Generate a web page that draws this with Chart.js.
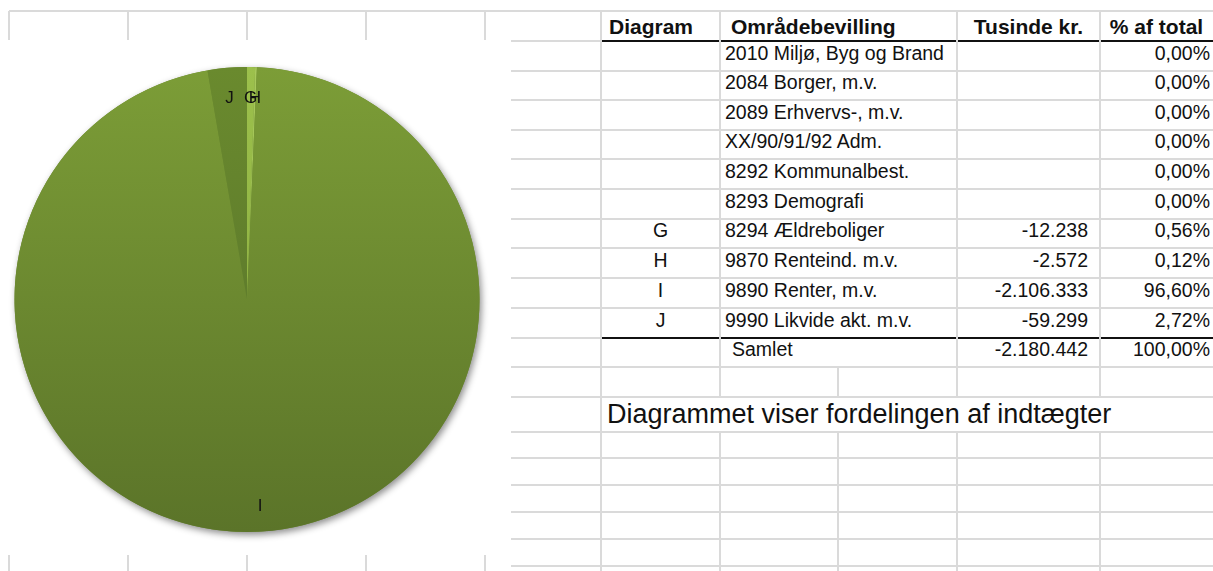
<!DOCTYPE html>
<html lang="da">
<head>
    <meta charset="UTF-8">
    <title>Fordeling af indtægter</title>
    <script src="https://cdn.jsdelivr.net/npm/chart.js@4.4.1/dist/chart.umd.min.js"></script>
    <style>
        html, body {margin: 0;padding: 0;width: 1213px;height: 571px;overflow: hidden;background: #fff;
            font-family: "Liberation Sans", Arial, sans-serif;color: #111;}
        .gl {position: absolute;background: #dadada;}
        .bl {position: absolute;background: #111;}
        .cell {position: absolute;display: flex;align-items: flex-end;line-height: 1;white-space: nowrap;box-sizing: border-box;}
        #pieBox {position: absolute;left: 0;top: 40px;width: 510px;height: 515px;background: #fff;z-index: 2;}
    </style>
</head>
<body>
<div id="sheet"></div>
<div id="pieBox"><canvas id="pie"></canvas></div>
<script>
    // data
    const codes = ['', '', '', '', '', '', 'G', 'H', 'I', 'J'];
    const names = ['2010 Miljø, Byg og Brand', '2084 Borger, m.v.', '2089 Erhvervs-, m.v.', 'XX/90/91/92 Adm.',
        '8292 Kommunalbest.', '8293 Demografi', '8294 Ældreboliger', '9870 Renteind. m.v.', '9890 Renter, m.v.',
        '9990 Likvide akt. m.v.'];
    const amounts = [null, null, null, null, null, null, -12238, -2572, -2106333, -59299];
    const shares = [0, 0, 0, 0, 0, 0, 0.56, 0.12, 96.60, 2.72];
    const headers = ['Diagram', 'Områdebevilling', 'Tusinde kr.', '% af total'];
    const totalLabel = 'Samlet';
    const note = 'Diagrammet viser fordelingen af indtægter';

    // slice colours, top -> bottom of the gradient
    const sliceTop = ['#9bbb59', '#9bbb59', '#9bbb59', '#9bbb59', '#9bbb59', '#9bbb59', '#9cc04c', '#a8c95c', '#7c9d37', '#6a8a2e'];
    const sliceBottom = ['#77933c', '#77933c', '#77933c', '#77933c', '#77933c', '#77933c', '#86a83a', '#90b244', '#5b7429', '#55702a'];

    function fmtAmount(v) {
        if (v === null) return '';
        const s = Math.abs(v).toString().replace(/\B(?=(\d{3})+(?!\d))/g, '.');
        return (v < 0 ? '-' : '') + s;
    }

    function fmtShare(v) {
        return v.toFixed(2).replace('.', ',') + '%';
    }

    // ---- spreadsheet grid ----
    const sheet = document.getElementById('sheet');
    const rowLines = [11, 41, 71, 100, 130, 159, 189, 219, 248, 278, 308, 338, 367, 397, 432, 458, 485, 512, 539, 566];

    function box(cls, l, t, w, h) {
        const d = document.createElement('div');
        d.className = cls;
        d.style.cssText = `left:${l}px;top:${t}px;width:${w}px;height:${h}px;`;
        sheet.appendChild(d);
        return d;
    }

    rowLines.forEach((y, i) => {
        if (i === 0) {
            box('gl', 9, y - 1, 1204, 2);
        } else if (y === 41 || y === 338) {
            box('gl', 511, y - 1, 90, 2);
            box('bl', 601, y - 1, 612, 2);
        } else {
            box('gl', 511, y - 1, 702, 2);
        }
    });

    [9, 128, 247, 366, 485].forEach(x => {
        box('gl', x - 1, 11, 2, 30);
        box('gl', x - 1, 554, 2, 17);
    });

    box('gl', 600, 11, 2, 560);
    [720, 957, 1100].forEach(x => {
        box('gl', x - 1, 11, 2, 386);
        box('gl', x - 1, 432, 2, 139);
    });
    box('gl', 837, 367, 2, 30);
    box('gl', 837, 432, 2, 139);

    function cell(text, l, w, top, bottom, opts) {
        const d = box('cell', l, top, w, bottom - top);
        d.textContent = text;
        d.style.fontSize = opts.size + 'px';
        d.style.paddingBottom = opts.pad + 'px';
        if (opts.bold) d.style.fontWeight = 'bold';
        d.style.justifyContent = opts.align || 'flex-start';
        if (opts.right) d.style.paddingRight = opts.right + 'px';
        if (opts.left) d.style.paddingLeft = opts.left + 'px';
        return d;
    }

    // header
    cell(headers[0], 601, 119, 11, 41, {size: 21, pad: 4, bold: true, left: 8});
    cell(headers[1], 720, 237, 11, 41, {size: 21, pad: 4, bold: true, left: 11});
    cell(headers[2], 957, 143, 11, 41, {size: 21, pad: 4, bold: true, align: 'center'});
    cell(headers[3], 1100, 113, 11, 41, {size: 21, pad: 4, bold: true, align: 'center'});

    names.forEach((n, i) => {
        const t = rowLines[i + 1], b = rowLines[i + 2];
        cell(codes[i], 601, 119, t, b, {size: 19.5, pad: 8, align: 'center'});
        cell(n, 720, 237, t, b, {size: 19.5, pad: 8, left: 5});
        cell(fmtAmount(amounts[i]), 957, 143, t, b, {size: 19.5, pad: 8, align: 'flex-end', right: 12});
        cell(fmtShare(shares[i]), 1100, 113, t, b, {size: 19.5, pad: 8, align: 'flex-end', right: 3});
    });

    const total = amounts.reduce((s, v) => s + (v || 0), 0);
    const totalShare = shares.reduce((s, v) => s + v, 0);
    cell(totalLabel, 720, 237, 338, 367, {size: 19.5, pad: 8, left: 12});
    cell(fmtAmount(total), 957, 143, 338, 367, {size: 19.5, pad: 8, align: 'flex-end', right: 12});
    cell(fmtShare(totalShare), 1100, 113, 338, 367, {size: 19.5, pad: 8, align: 'flex-end', right: 3});

    cell(note, 601, 612, 397, 432, {size: 27, pad: 4, left: 6});

    // ---- pie ----
    function sliceGradient(ctx, i) {
        const chart = ctx.chart;
        const area = chart.chartArea;
        if (!area) return sliceTop[i];
        const g = chart.ctx.createLinearGradient(0, area.top, 0, area.bottom);
        g.addColorStop(0, sliceTop[i]);
        g.addColorStop(1, sliceBottom[i]);
        return g;
    }

    const pieShadow = {
        id: 'pieShadow',
        beforeDatasetsDraw(chart) {
            const arc = chart.getDatasetMeta(0).data.find(a => a.circumference > 0);
            if (!arc) return;
            const c = chart.ctx;
            c.save();
            c.shadowColor = 'rgba(0, 0, 0, 0.45)';
            c.shadowBlur = 7;
            c.shadowOffsetX = 2;
            c.shadowOffsetY = 3;
            c.fillStyle = '#6b8a30';
            c.beginPath();
            c.arc(arc.x, arc.y, arc.outerRadius, 0, Math.PI * 2);
            c.fill();
            c.restore();
        }
    };

    const sliceLabels = {
        id: 'sliceLabels',
        afterDatasetsDraw(chart) {
            const meta = chart.getDatasetMeta(0);
            const c = chart.ctx;
            c.save();
            c.font = '17px "Liberation Sans", Arial, sans-serif';
            c.fillStyle = '#111';
            c.textAlign = 'center';
            c.textBaseline = 'middle';
            meta.data.forEach((arc, i) => {
                if (!shares[i]) return;
                const mid = (arc.startAngle + arc.endAngle) / 2;
                const r = arc.outerRadius * 0.88;
                c.fillText(chart.data.labels[i], arc.x + Math.cos(mid) * r, arc.y + Math.sin(mid) * r + 3);
            });
            c.restore();
        }
    };

    new Chart(document.getElementById('pie'), {
        type: 'pie',
        data: {
            labels: codes,
            datasets: [{
                data: shares,
                backgroundColor: ctx => sliceGradient(ctx, ctx.dataIndex),
                borderWidth: 0
            }]
        },
        options: {
            responsive: true,
            maintainAspectRatio: false,
            animation: false,
            layout: {padding: {left: 14.5, right: 30.5, top: 27, bottom: 23}},
            plugins: {legend: {display: false}, tooltip: {enabled: false}}
        },
        plugins: [pieShadow, sliceLabels]
    });
</script>
</body>
</html>
